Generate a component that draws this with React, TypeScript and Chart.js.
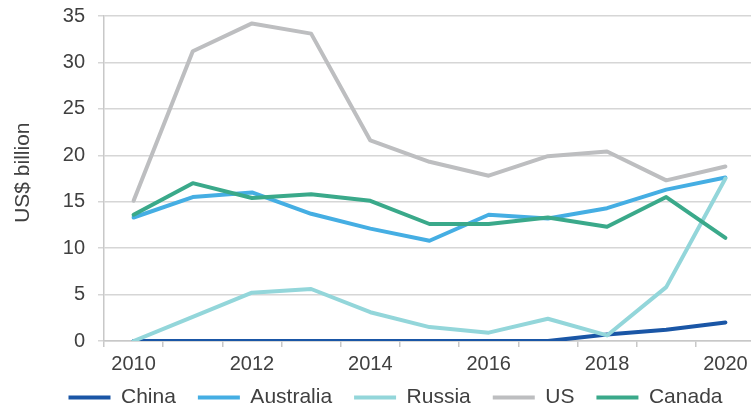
import React, { useEffect, useRef } from "react";
import { Chart, registerables } from "chart.js";

Chart.register(...registerables);

const years = ["2010", "2011", "2012", "2013", "2014", "2015", "2016", "2017", "2018", "2019", "2020"];
const china = [0, 0, 0, 0, 0, 0, 0, 0, 0.7, 1.2, 2.0];
const australia = [13.3, 15.5, 16.0, 13.7, 12.1, 10.8, 13.6, 13.2, 14.3, 16.3, 17.6];
const russia = [0, 2.6, 5.2, 5.6, 3.1, 1.5, 0.9, 2.4, 0.6, 5.8, 17.5];
const us = [15.1, 31.2, 34.2, 33.1, 21.6, 19.3, 17.8, 19.9, 20.4, 17.3, 18.8];
const canada = [13.6, 17.0, 15.4, 15.8, 15.1, 12.6, 12.6, 13.3, 12.3, 15.5, 11.1];
const yTicks = [0, 5, 10, 15, 20, 25, 30, 35];

const FONT = "'Liberation Sans', Arial, sans-serif";
const TEXT = "#404040";

const shiftLegend = {
  id: "shiftLegend",
  afterLayout(chart: any) {
    const l = chart.legend;
    if (!l) return;
    l.top -= 8;
    l.height = l.bottom - l.top;
    l.left += 18;
    l.right += 18;
  },
};

export default function App() {
  const ref = useRef<HTMLCanvasElement | null>(null);
  useEffect(() => {
    if (!ref.current) return;
    const mk = (label: string, data: number[], color: string, order: number) => ({
      label,
      data,
      borderColor: color,
      backgroundColor: color,
      borderWidth: 4,
      pointRadius: 0,
      tension: 0,
      borderJoinStyle: "round" as const,
      borderCapStyle: "round" as const,
      order,
    });
    const chart = new Chart(ref.current, {
      type: "line",
      data: {
        labels: years,
        datasets: [
          mk("China", china, "#1a56a6", 5),
          mk("Australia", australia, "#45aee3", 4),
          mk("Russia", russia, "#93d6da", 3),
          mk("US", us, "#bdbec0", 2),
          mk("Canada", canada, "#3aa98a", 1),
        ],
      },
      plugins: [shiftLegend],
      options: {
        responsive: false,
        animation: false,
        devicePixelRatio: 1,
        layout: { autoPadding: false, padding: { left: 0, right: 39, top: 16, bottom: 4 } },
        plugins: {
          tooltip: { enabled: false },
          legend: {
            position: "bottom",
            maxHeight: 34,
            labels: {
              usePointStyle: true,
              pointStyle: "line",
              pointStyleWidth: 42,
              padding: 22,
              color: TEXT,
              font: { family: FONT, size: 21 },
              sort: (a: any, b: any) => a.datasetIndex - b.datasetIndex,
            },
          },
        },
        scales: {
          x: {
            type: "category",
            offset: true,
            grid: {
              offset: true,
              drawOnChartArea: false,
              drawTicks: true,
              tickLength: 6,
              color: "#c8c8c8",
              lineWidth: 1.5,
            },
            border: { display: true, color: "#c8c8c8", width: 1.5 },
            ticks: {
              autoSkip: false,
              maxRotation: 0,
              padding: 5,
              color: TEXT,
              font: { family: FONT, size: 20 },
              callback: (_v: any, i: number) => (i % 2 === 0 ? years[i] : ""),
            },
            afterFit: (s: any) => {
              s.height = 32;
              s.paddingLeft = 0;
              s.paddingRight = 0;
            },
          },
          y: {
            min: 0,
            max: 35,
            afterBuildTicks: (s: any) => {
              s.ticks = yTicks.map((v) => ({ value: v }));
            },
            grid: {
              color: "#d6d6d6",
              lineWidth: 1.5,
              drawTicks: true,
              tickLength: 6,
            },
            border: { display: true, color: "#c8c8c8", width: 1.5 },
            ticks: {
              padding: 13,
              color: TEXT,
              font: { family: FONT, size: 20 },
            },
            title: {
              display: true,
              text: "  US$ billion",
              color: TEXT,
              font: { family: FONT, size: 21 },
              padding: { top: 11, bottom: 0 },
            },
            afterFit: (s: any) => {
              s.width = 104;
              s.paddingTop = 0;
              s.paddingBottom = 0;
            },
          },
        },
      },
    });
    return () => chart.destroy();
  }, []);
  return (
    <div
      style={{
        position: "fixed",
        left: 0,
        top: 0,
        width: 751,
        height: 411,
        overflow: "hidden",
        background: "#fff",
      }}
    >
      <canvas ref={ref} width={794} height={411} style={{ display: "block" }} />
    </div>
  );
}
